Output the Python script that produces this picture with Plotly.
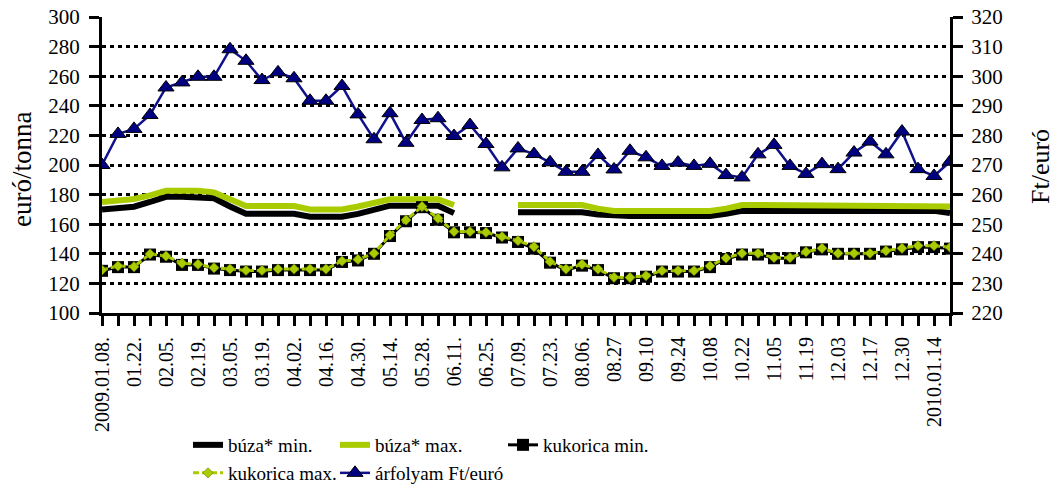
import plotly.graph_objects as go

# ---- data -------------------------------------------------------------
dates = [
    "2009.01.08.", "01.15.", "01.22.", "01.29.", "02.05.", "02.12.", "02.19.", "02.26.",
    "03.05.", "03.12.", "03.19.", "03.26.", "04.02.", "04.09.", "04.16.", "04.23.",
    "04.30.", "05.07.", "05.14.", "05.21.", "05.28.", "06.04.", "06.11.", "06.18.",
    "06.25.", "07.02.", "07.09.", "07.16.", "07.23.", "07.30.", "08.06.", "08.13",
    "08.27", "09.03", "09.10", "09.17", "09.24", "10.01", "10.08", "10.15",
    "10.22", "10.29", "11.05", "11.12", "11.19", "11.26", "12.03", "12.10",
    "12.17", "12.23", "12.30", "2010.01.07", "2010.01.14", "2010.01.21",
]
tick_labels = [d if i % 2 == 0 else "" for i, d in enumerate(dates)]

buza_min = [
    170, 171, 171.8, 175, 178.5, 178.5, 178.5, 177.5, 172, 167,
    167, 167, 167, 165, 165, 165, 167, 169.6, 172.5, 172.5,
    172.5, 172.5, 167.5, None, None, None, 168, 168, 168, 168,
    168, 166.5, 165.5, 165.5, 165.5, 165.5, 165.5, 165.5, 165.5, 167,
    169, 169, 169, 169, 169, 169, 169, 169, 169, 169,
    169, 169, 169, 167.5,
]
buza_max = [
    175, 176, 177, 179.5, 182.6, 182.6, 182.6, 181.5, 177, 172.3,
    172.3, 172.3, 172.3, 170, 170, 170, 172, 174.5, 176.8, 176.8,
    176.8, 176.8, 173, None, None, None, 173, 173, 173, 173,
    173, 170.5, 169, 169, 169, 169, 169, 169, 169, 170.5,
    173, 173, 173, 173, 173, 173, 173, 173, 173, 173,
    173, 173, 173, 172,
]
kukorica_min = [
    128.5, 131, 131, 139.5, 138, 132.5, 132.5, 130, 129, 128,
    128, 129, 129, 129, 129, 134.5, 135.5, 140, 152, 162,
    171.5, 163, 154.5, 154.5, 154, 151, 148, 143.5, 134, 129,
    132, 129, 123.5, 123.5, 124.5, 128, 128, 128, 131, 136.5,
    139.5, 139.5, 137, 137, 141, 143, 140, 140, 140, 141.5,
    143, 144.5, 144.5, 143.5,
]
kukorica_max = [
    129.1, 131.8, 131.3, 139.9, 138.5, 133.6, 132.9, 130.6, 129.7, 128.8,
    128.8, 129.7, 129.7, 129.7, 129.7, 135.1, 136.2, 140.3, 152.7, 162.8,
    172, 164, 155, 155, 154.5, 151.6, 148.9, 144.8, 134.7, 129.7,
    132.9, 129.7, 124.1, 124, 125.2, 128.6, 128.6, 128.6, 131.8, 137.2,
    140.3, 140.3, 137.4, 137.4, 141.4, 143.7, 140.3, 140.3, 140.3, 142.1,
    143.7, 145.5, 145.5, 144.4,
]
arfolyam = [
    270, 280.5, 282.2, 286.9, 296.2, 297.9, 299.8, 299.8, 309.1, 305.2,
    298.7, 301.3, 299.3, 291.7, 291.7, 296.7, 287.1, 278.7, 287.5, 277.5,
    285.2, 285.8, 279.8, 283.5, 277.1, 269.2, 275.6, 273.7, 270.9, 267.7,
    267.7, 273.4, 268.5, 274.8, 272.6, 269.7, 270.8, 269.7, 270.4, 266.6,
    265.8, 273.6, 276.8, 269.7, 267, 270.3, 268.6, 274.2, 277.9, 273.6,
    281.3, 268.6, 266.3, 271.1,
]
left_title = "euró/tonna"
right_title = "Ft/euró"

# ---- style ------------------------------------------------------------
FONT = "Liberation Serif"
GREEN = "#A8CC00"
NAVY = "#000080"

fig = go.Figure()

fig.add_trace(go.Scatter(
    x=dates, y=buza_min, name="búza* min.", mode="lines",
    line=dict(color="black", width=6), connectgaps=False, legend="legend",
))
fig.add_trace(go.Scatter(
    x=dates, y=buza_max, name="búza* max.", mode="lines",
    line=dict(color=GREEN, width=6), connectgaps=False, legend="legend2",
))
fig.add_trace(go.Scatter(
    x=dates, y=kukorica_min, name="kukorica min.", mode="lines+markers",
    line=dict(color="black", width=3),
    marker=dict(symbol="square", size=12, color="black"), legend="legend3",
))
fig.add_trace(go.Scatter(
    x=dates, y=kukorica_max, name="kukorica max.", mode="lines+markers",
    line=dict(color=GREEN, width=3, dash="6px,3px"),
    marker=dict(symbol="diamond", size=8, color=GREEN,
                line=dict(color="#5a6b00", width=0.5)), legend="legend4",
))
fig.add_trace(go.Scatter(
    x=dates, y=arfolyam, name="árfolyam Ft/euró", mode="lines+markers",
    line=dict(color="#10108a", width=2.5),
    marker=dict(symbol="triangle-up", size=14, color=NAVY,
                line=dict(color="black", width=1)), yaxis="y2", legend="legend5",
))

axis_font = dict(family=FONT, size=20, color="black")
yaxis_font = dict(family=FONT, size=21, color="black")

W, H = 1058, 493
L, R, T, B = 102, 108, 17, 180
PW, PH = W - L - R, H - T - B


def leg(px, py):
    # legend placed in container (whole-figure) coordinates
    return dict(x=px / W, y=(H - py) / H, xref="container", yref="container",
                xanchor="left", yanchor="middle",
                font=dict(family=FONT, size=19, color="black"),
                bgcolor="rgba(0,0,0,0)", borderwidth=0, itemwidth=30,
                visible=True)


fig.update_layout(
    width=W, height=H,
    showlegend=True,
    margin=dict(l=L, r=R, t=T, b=B, autoexpand=False),
    plot_bgcolor="white", paper_bgcolor="white",
    font=dict(family=FONT, color="black"),
    xaxis=dict(
        type="category", range=[0, len(dates) - 1],
        tickmode="array", tickvals=dates, ticktext=tick_labels,
        tickangle=-90, tickfont=axis_font, ticklabelstandoff=3,
        ticks="outside", ticklen=10, tickwidth=3, tickcolor="black",
        showline=True, linewidth=3, linecolor="black", showgrid=False,
    ),
    yaxis=dict(
        range=[100, 300], tick0=100, dtick=20, tickfont=yaxis_font,
        ticklabelstandoff=5,
        ticks="outside", ticklen=10, tickwidth=3, tickcolor="black",
        showline=True, linewidth=3, linecolor="black",
        showgrid=True, gridcolor="black", gridwidth=3, griddash="4px,4px",
        zeroline=False,
    ),
    yaxis2=dict(
        overlaying="y", side="right", range=[220, 320], tick0=220, dtick=10,
        tickfont=yaxis_font, ticklabelstandoff=4,
        ticks="outside", ticklen=10, tickwidth=3, tickcolor="black",
        showline=True, linewidth=3, linecolor="black",
        showgrid=False, zeroline=False,
    ),
    legend=leg(188, 445),
    legend2=leg(335, 445),
    legend3=leg(503, 445),
    legend4=leg(188, 473),
    legend5=leg(335, 473),
    annotations=[
        dict(text=left_title, textangle=-90, showarrow=False,
             xref="paper", yref="paper",
             x=(22 - L) / PW, y=(H - B - 170) / PH,
             xanchor="center", yanchor="middle",
             font=dict(family=FONT, size=27, color="black")),
        dict(text=right_title, textangle=-90, showarrow=False,
             xref="paper", yref="paper",
             x=(1040 - L) / PW, y=(H - B - 167) / PH,
             xanchor="center", yanchor="middle",
             font=dict(family=FONT, size=26, color="black")),
    ],
)

fig.write_html("out.html", config={"displayModeBar": False},
               post_script="document.body.style.margin='0';")
